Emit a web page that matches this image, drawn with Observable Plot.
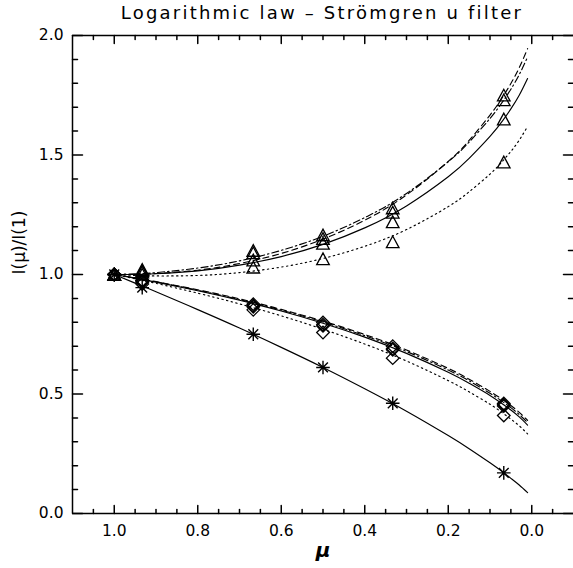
<!DOCTYPE html>
<html><head><meta charset="utf-8">
<script src="https://cdn.jsdelivr.net/npm/d3@7"></script>
<script src="https://cdn.jsdelivr.net/npm/@observablehq/plot@0.6"></script>
<style>
body{margin:0;background:#fff;font-family:"DejaVu Sans",sans-serif;overflow:hidden;}
#title{height:26px;position:relative;width:573px;}
#title span{position:absolute;left:322px;top:2px;transform:translateX(-50%);font-size:18px;white-space:nowrap;letter-spacing:2.2px;color:#000;}
</style></head><body>
<div id="title"><span>Logarithmic law – Strömgren u filter</span></div>
<div id="chart"></div>
<script>
// ---- data ----
const muPoints = [1.0, 0.933, 0.667, 0.5, 0.333, 0.067];
const triA = [1.00, 1.020, 1.100, 1.165, 1.278, 1.750];
const triB = [1.00, 1.015, 1.090, 1.150, 1.260, 1.730];
const triC = [1.00, 1.010, 1.060, 1.130, 1.220, 1.650];
const triD = [1.00, 1.000, 1.030, 1.065, 1.136, 1.470];
const diaA = [1.00, 0.975, 0.876, 0.799, 0.700, 0.460];
const diaB = [1.00, 0.972, 0.870, 0.790, 0.690, 0.455];
const diaC = [1.00, 0.968, 0.865, 0.785, 0.685, 0.450];
const diaD = [1.00, 0.960, 0.852, 0.757, 0.650, 0.410];
const stars = [1.00, 0.945, 0.750, 0.611, 0.461, 0.170];

const muCurve   = [1, 0.95, 0.9, 0.8, 0.7, 0.6, 0.5, 0.4, 0.3, 0.2, 0.15, 0.1, 0.07, 0.05, 0.03, 0.01];
const upSolid   = [1.000,1.000,1.003,1.015,1.039,1.075,1.126,1.195,1.287,1.409,1.486,1.578,1.643,1.693,1.750,1.820];
const upDashed  = [1.000,1.000,1.004,1.018,1.046,1.088,1.148,1.227,1.333,1.473,1.561,1.667,1.742,1.799,1.865,1.945];
const upDashDot = [1.000,1.003,1.008,1.027,1.057,1.101,1.160,1.238,1.339,1.472,1.554,1.653,1.722,1.775,1.836,1.910];
const upDotted  = [1.000,0.996,0.994,0.996,1.008,1.031,1.067,1.118,1.188,1.284,1.346,1.420,1.474,1.515,1.562,1.620];
const lowSolid  = [1.000,0.985,0.968,0.932,0.892,0.847,0.796,0.738,0.670,0.591,0.545,0.494,0.458,0.433,0.404,0.370];
const lowDashed = [1.000,0.986,0.970,0.936,0.898,0.854,0.805,0.749,0.684,0.607,0.562,0.511,0.477,0.452,0.423,0.390];
const lowDashDot= [1.000,0.985,0.969,0.934,0.895,0.851,0.801,0.744,0.678,0.600,0.555,0.503,0.468,0.443,0.414,0.381];
const lowDotted = [1.000,0.982,0.963,0.922,0.877,0.827,0.771,0.709,0.638,0.556,0.509,0.457,0.421,0.395,0.367,0.333];
const starCurve = [1.000,0.964,0.928,0.853,0.776,0.695,0.611,0.522,0.428,0.326,0.271,0.212,0.174,0.147,0.119,0.087];

const xMajor = [1.0, 0.8, 0.6, 0.4, 0.2, 0.0];
const xMinor = [1.05, 0.95, 0.9, 0.85, 0.75, 0.7, 0.65, 0.55, 0.5, 0.45, 0.35, 0.3, 0.25, 0.15, 0.1, 0.05, -0.05];
const yMajor = [0.0, 0.5, 1.0, 1.5, 2.0];
const yMinor = [0.1,0.2,0.3,0.4,0.6,0.7,0.8,0.9,1.1,1.2,1.3,1.4,1.6,1.7,1.8,1.9];

const xDomain = [1.1, -0.1];
const yDomain = [0, 2];

// ---- layout ----
const W = 573, H = 542, MT = 9, MB = 55, ML = 72, MR = 0;
const pxY = (px) => px * (yDomain[1] - yDomain[0]) / (H - MT - MB);
const pxX = (px) => px * (xDomain[0] - xDomain[1]) / (W - ML - MR);

// ---- build tables ----
const pts = (ys) => muPoints.map((m, i) => ({mu: m, v: ys[i]}));
const crv = (ys) => muCurve.map((m, i) => ({mu: m, v: ys[i]}));

// inward tick segments (two end points per tick, grouped by id)
const tickSegs = [];
const addX = (vals, len, tag) => vals.forEach((x, i) => {
  tickSegs.push({x, y: yDomain[0], id: "b" + tag + i}, {x, y: yDomain[0] + pxY(len), id: "b" + tag + i});
  tickSegs.push({x, y: yDomain[1], id: "t" + tag + i}, {x, y: yDomain[1] - pxY(len), id: "t" + tag + i});
});
const addY = (vals, len, tag) => vals.forEach((y, i) => {
  tickSegs.push({x: xDomain[0], y, id: "l" + tag + i}, {x: xDomain[0] - pxX(len), y, id: "l" + tag + i});
  tickSegs.push({x: xDomain[1], y, id: "r" + tag + i}, {x: xDomain[1] + pxX(len), y, id: "r" + tag + i});
});
addX(xMajor, 8, "M"); addX(xMinor, 4, "m");
addY(yMajor, 10, "M"); addY(yMinor, 5, "m");

// ---- custom symbols ----
const rad = (size) => Math.sqrt(size / Math.PI);
const triSym = {draw(c, size){ const s = rad(size); c.moveTo(-s, s*0.9); c.lineTo(0, -s*0.95); c.lineTo(s, s*0.9); c.closePath(); }};
const diaSym = {draw(c, size){ const s = rad(size); c.moveTo(-s, 0); c.lineTo(0, -s); c.lineTo(s, 0); c.lineTo(0, s); c.closePath(); }};
const starSym = {draw(c, size){ const s = rad(size); const d = s*0.72;
  c.moveTo(0,-s); c.lineTo(0,s); c.moveTo(-s,0); c.lineTo(s,0);
  c.moveTo(-d,-d); c.lineTo(d,d); c.moveTo(-d,d); c.lineTo(d,-d); }};

const DASH = "6,4", DASHDOT = "7,3,1.5,3", DOT = "1.4,3.4";
const lineOpts = (dash) => ({x: "mu", y: "v", stroke: "black", strokeWidth: 1.15, curve: "natural", strokeDasharray: dash});

const fmt = d3.format(".1f");
const FONT = "DejaVu Sans";

const chart = Plot.plot({
  width: W, height: H,
  marginTop: MT, marginBottom: MB, marginLeft: ML, marginRight: MR,
  style: {fontFamily: FONT, background: "white", color: "black", overflow: "visible"},
  x: {domain: xDomain, axis: null},
  y: {domain: yDomain, axis: null},
  marks: [
    // frame (left, bottom, top)
    Plot.ruleY(yDomain, {y: d => d, stroke: "black", strokeWidth: 1.5}),
    Plot.ruleX([xDomain[0]], {x: d => d, stroke: "black", strokeWidth: 1.5}),
    // inward ticks
    Plot.line(tickSegs, {x: "x", y: "y", z: "id", stroke: "black", strokeWidth: 1.5}),
    // tick labels
    Plot.text(xMajor, {x: d => d, frameAnchor: "bottom", dy: 22, text: d => fmt(d), fontSize: 15.5, fill: "black"}),
    Plot.text(yMajor, {y: d => d, frameAnchor: "left", dx: -9, textAnchor: "end", text: d => fmt(d), fontSize: 15.5, fill: "black"}),
    // axis labels
    Plot.text(["μ"], {frameAnchor: "bottom", dy: 43, text: d => d, fontSize: 20, fontStyle: "italic", fontWeight: "bold", fill: "black"}),
    Plot.text(["I(μ)/I(1)"], {frameAnchor: "left", dx: -53, rotate: -90, text: d => d, fontSize: 17, fill: "black"}),
    // curves
    Plot.line(crv(upSolid), lineOpts(null)),
    Plot.line(crv(upDashed), lineOpts(DASH)),
    Plot.line(crv(upDashDot), lineOpts(DASHDOT)),
    Plot.line(crv(upDotted), lineOpts(DOT)),
    Plot.line(crv(lowSolid), lineOpts(null)),
    Plot.line(crv(lowDashed), lineOpts(DASH)),
    Plot.line(crv(lowDashDot), lineOpts(DASHDOT)),
    Plot.line(crv(lowDotted), lineOpts(DOT)),
    Plot.line(crv(starCurve), lineOpts(null)),
    // markers
    ...[triA, triB, triC, triD].map(a => Plot.dot(pts(a), {x: "mu", y: "v", symbol: triSym, r: 6.3, stroke: "black", fill: "none", strokeWidth: 1.3})),
    ...[diaA, diaB, diaC, diaD].map(a => Plot.dot(pts(a), {x: "mu", y: "v", symbol: diaSym, r: 6.3, stroke: "black", fill: "none", strokeWidth: 1.3})),
    Plot.dot(pts(stars), {x: "mu", y: "v", symbol: starSym, r: 6.8, stroke: "black", fill: "none", strokeWidth: 1.4})
  ]
});
document.getElementById("chart").appendChild(chart);
</script>
</body></html>
